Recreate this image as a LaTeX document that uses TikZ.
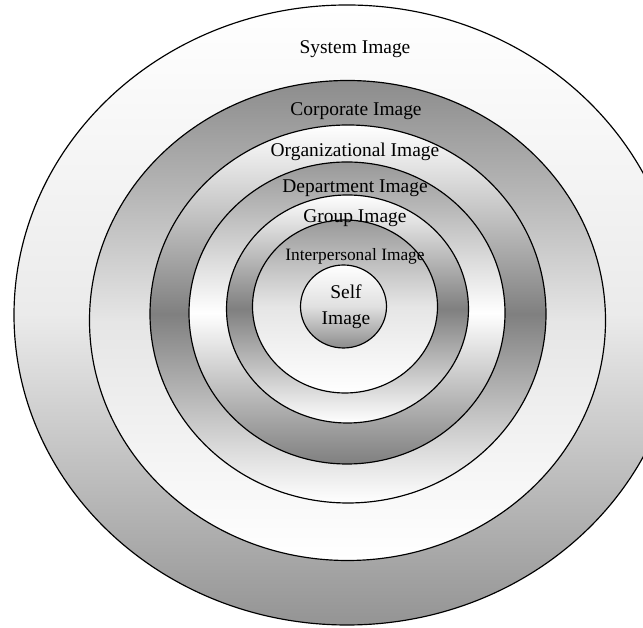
\documentclass[tikz,border=0pt]{standalone}
\usepackage{fontspec}
\setmainfont{Liberation Serif}

\begin{document}
\begin{tikzpicture}[
        x=0.03cm, y=0.03cm,
        ring/.style={draw=black, line width=1pt},
        lbl/.style={font=\fontsize{16.6}{22}\selectfont, inner sep=0pt, align=center},
        smalllbl/.style={font=\fontsize{14.8}{18}\selectfont, inner sep=0pt}
    ]
    \useasboundingbox (0,0) rectangle (643,628);
    \fill[white] (0,0) rectangle (643,628);
    \clip (0,0) rectangle (643,628);

    % rings, from the outside in
    \draw[ring, top color=white, bottom color=black!42, middle color=black!8] (347,313) ellipse [x radius=333, y radius=310];
    \draw[ring, top color=black!45, bottom color=white, middle color=black!10] (347.5,307.5) ellipse [x radius=258, y radius=240];
    \draw[ring, top color=white, bottom color=white, middle color=black!50] (348,314) ellipse [x radius=198, y radius=189];
    \draw[ring, top color=black!40, bottom color=black!50, middle color=white] (347,315) ellipse [x radius=158, y radius=151];
    \draw[ring, top color=white, bottom color=white, middle color=black!50] (347.5,319) ellipse [x radius=121, y radius=114];
    \draw[ring, top color=black!40, bottom color=white, middle color=black!10] (345,321.5) ellipse [x radius=92.5, y radius=86.5];
    \draw[ring, top color=white, bottom color=black!45, middle color=black!12] (343.5,321.5) ellipse [x radius=43, y radius=41.5];

    \node[lbl] (system) at (355,579) {System Image};
    \node[lbl] (corporate) at (356,517) {Corporate Image};
    \node[lbl] (organizational) at (355,476) {Organizational Image};
    \node[lbl] (department) at (355,440) {Department Image};
    \node[lbl] (group) at (355,410) {Group Image};
    \node[smalllbl] (interpersonal) at (355,372) {Interpersonal Image};
    \node[lbl] (self) at (346,321) {Self\\Image};

\end{tikzpicture}
\end{document}
